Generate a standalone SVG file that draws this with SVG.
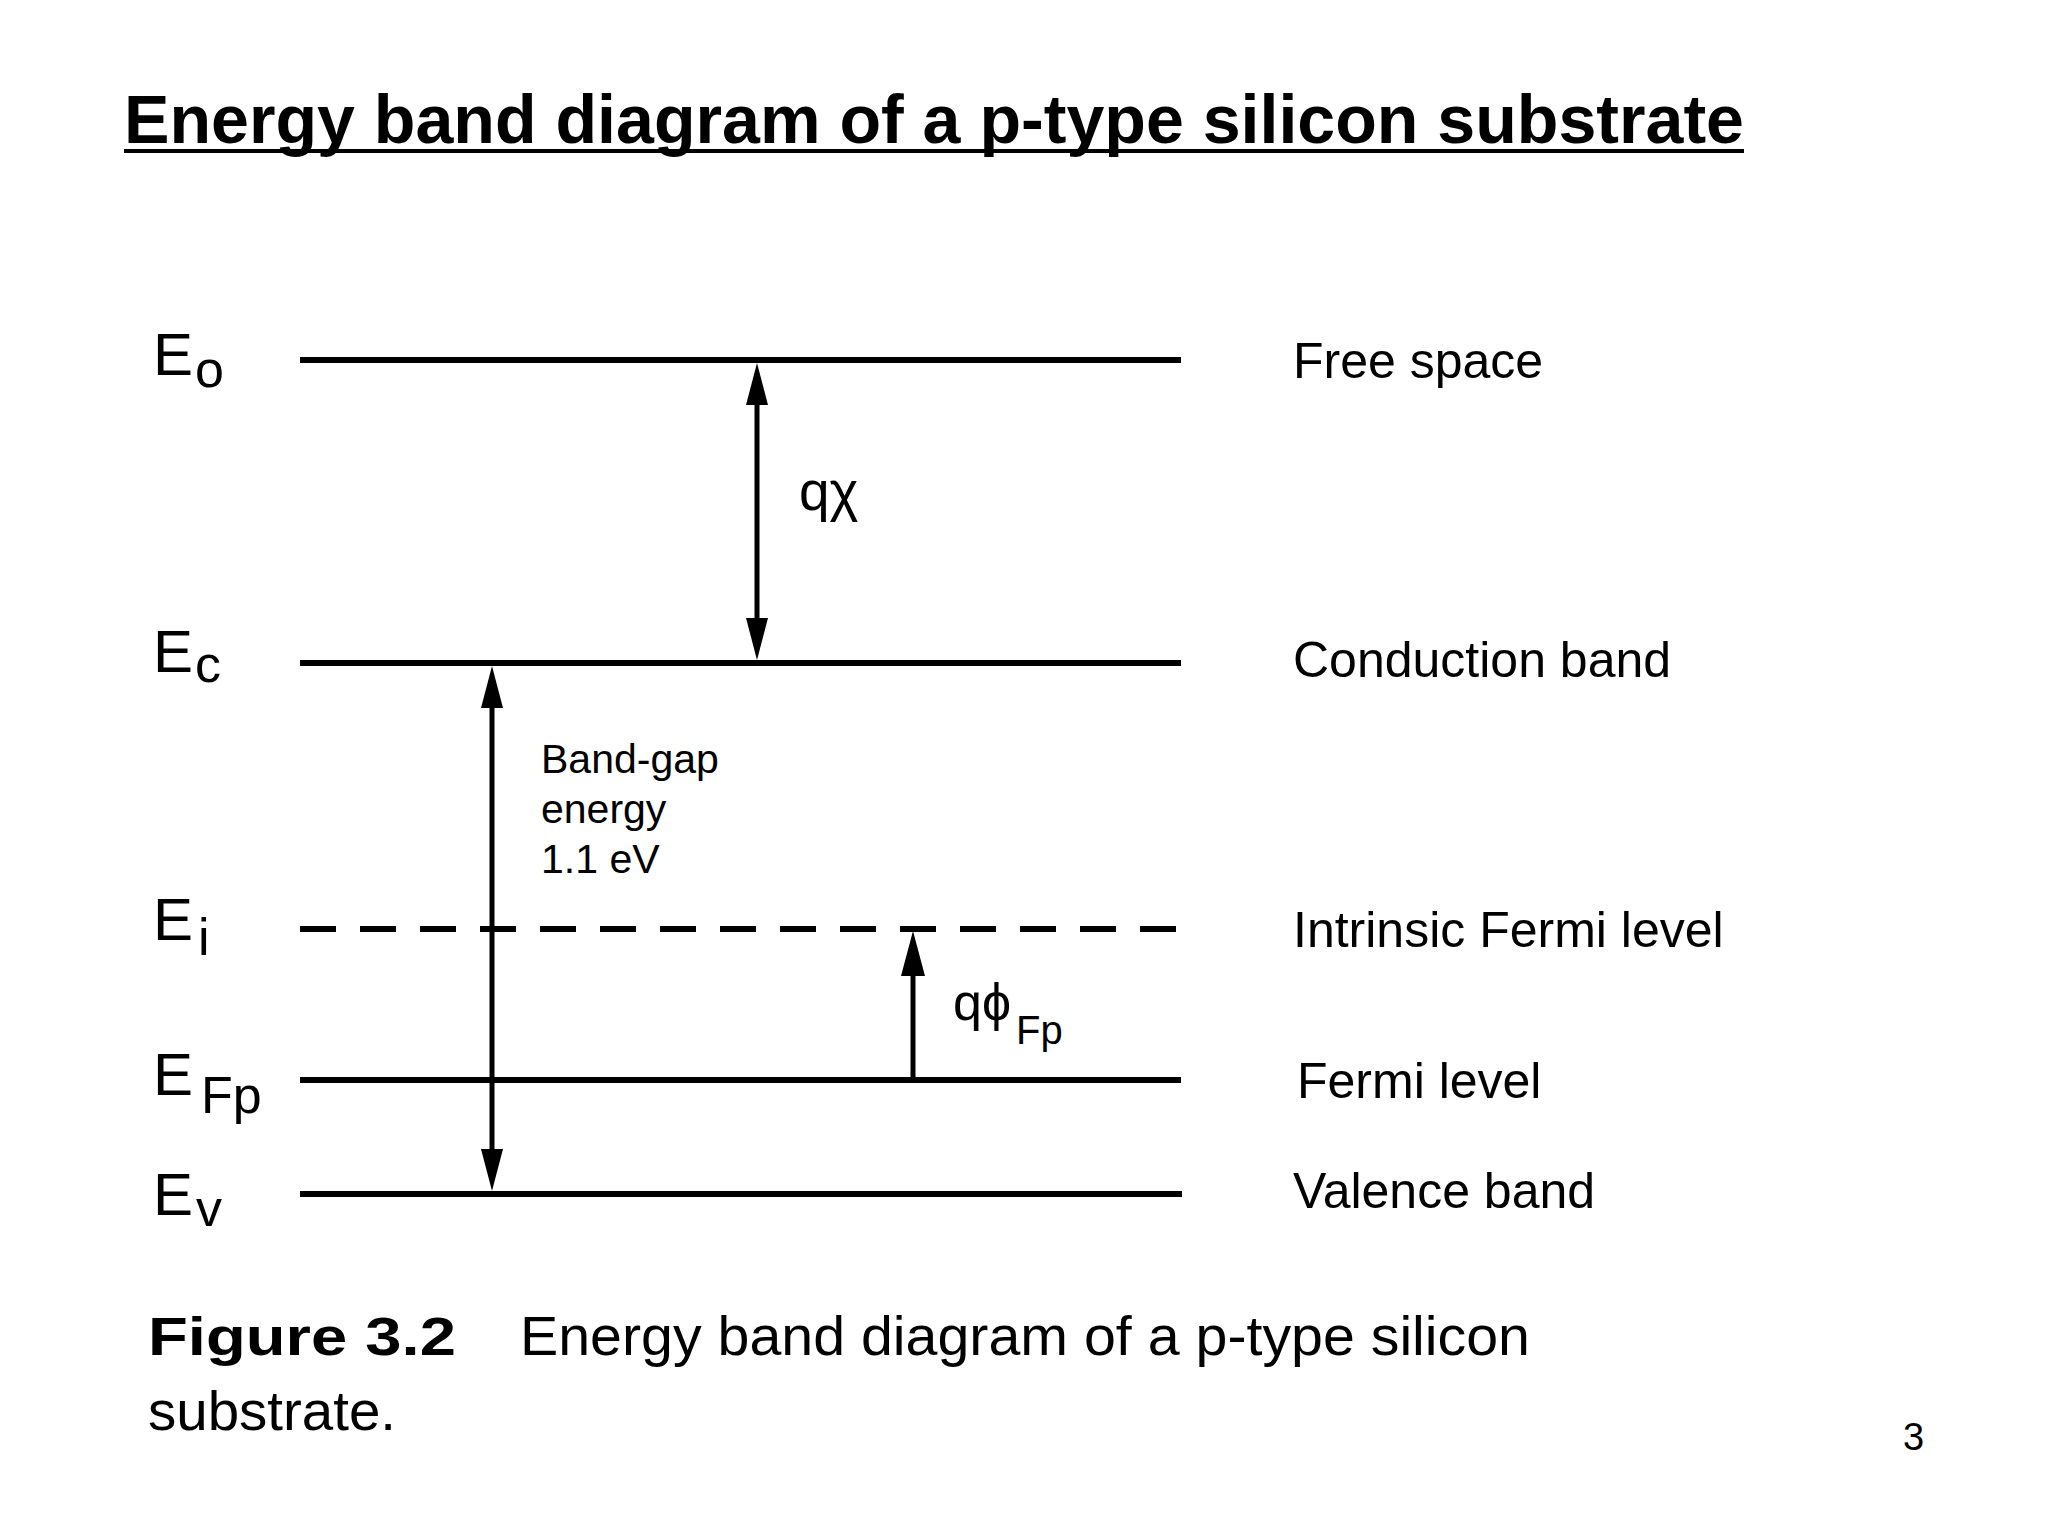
<svg xmlns="http://www.w3.org/2000/svg" width="2048" height="1536" viewBox="0 0 2048 1536">
<style>
text{font-family:"Liberation Sans",Arial,Helvetica,sans-serif;fill:#000}
.lvl{stroke:#000;stroke-width:6;fill:none}
.dash{stroke-dasharray:36 24}
.sym{font-size:60px}
.sub{font-size:52px}
.rl{font-size:50px}
.arr{stroke:#000;stroke-width:5;fill:none}
.head{fill:#000;stroke:none}
</style>
<rect width="2048" height="1536" fill="#fff"/>
<g id="title">
<text x="124" y="143" font-size="68" font-weight="bold" textLength="1620" lengthAdjust="spacingAndGlyphs">Energy band diagram of a p-type silicon substrate</text>
<line x1="124" y1="151" x2="1744" y2="151" stroke="#000" stroke-width="4"/>
</g>
<g id="level-Eo">
<text class="sym" x="153" y="375">E</text><text class="sub" x="195" y="387">o</text>
<line class="lvl" x1="300" y1="360" x2="1181" y2="360"/>
<text class="rl" x="1293" y="378">Free space</text>
</g>
<g id="level-Ec">
<text class="sym" x="153" y="672">E</text><text class="sub" x="195" y="682">c</text>
<line class="lvl" x1="300" y1="663" x2="1181" y2="663"/>
<text class="rl" x="1293" y="677">Conduction band</text>
</g>
<g id="level-Ei">
<text class="sym" x="153" y="940">E</text><text class="sub" x="198" y="955">i</text>
<line class="lvl dash" x1="300" y1="929" x2="1181" y2="929"/>
<text class="rl" x="1293" y="947">Intrinsic Fermi level</text>
</g>
<g id="level-EFp">
<text class="sym" x="153" y="1095">E</text><text class="sub" x="201" y="1113" font-size="54">Fp</text>
<line class="lvl" x1="300" y1="1080" x2="1181" y2="1080"/>
<text class="rl" x="1297" y="1098">Fermi level</text>
</g>
<g id="level-Ev">
<text class="sym" x="153" y="1215">E</text><text class="sub" x="196" y="1226" font-size="56">v</text>
<line class="lvl" x1="300" y1="1194" x2="1182" y2="1194"/>
<text class="rl" x="1293" y="1208">Valence band</text>
</g>
<g id="connectors">
<line class="arr" x1="757" y1="395" x2="757" y2="628"/>
<polygon class="head" points="757,363 746,405 768,405"/>
<polygon class="head" points="757,660 746,618 768,618"/>
<line class="arr" x1="492" y1="700" x2="492" y2="1160"/>
<polygon class="head" points="492,666 481,708 503,708"/>
<polygon class="head" points="492,1191 481,1149 503,1149"/>
<line class="arr" x1="913" y1="965" x2="913" y2="1080"/>
<polygon class="head" points="913,931 901,976 925,976"/>
</g>
<g id="labels">
<text x="799" y="510" font-size="55">qχ</text>
<text x="541" y="773" font-size="41">Band-gap</text>
<text x="541" y="823" font-size="41">energy</text>
<text x="541" y="873" font-size="41">1.1 eV</text>
<text x="953" y="1020" font-size="52">qϕ</text><text x="1016" y="1044" font-size="40">Fp</text>
</g>
<g id="caption">
<text x="148" y="1355" font-size="54" font-weight="bold" textLength="308" lengthAdjust="spacingAndGlyphs">Figure 3.2</text>
<text x="520" y="1355" font-size="56" textLength="1010" lengthAdjust="spacingAndGlyphs">Energy band diagram of a p-type silicon</text>
<text x="148" y="1430" font-size="56" textLength="248" lengthAdjust="spacingAndGlyphs">substrate.</text>
</g>
<text x="1903" y="1450" font-size="38">3</text>
</svg>
